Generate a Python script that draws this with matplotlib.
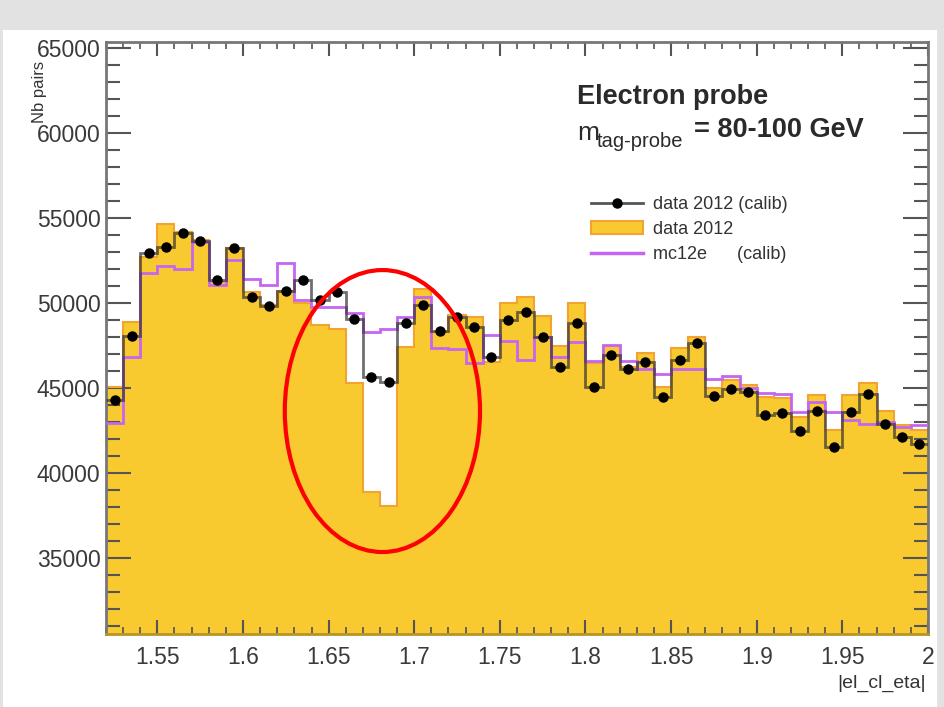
import numpy as np
import matplotlib
matplotlib.use("Agg")
import matplotlib.pyplot as plt
from matplotlib.patches import Ellipse, Rectangle, Patch
from matplotlib.lines import Line2D
from matplotlib.ticker import MultipleLocator, FuncFormatter

plt.rcParams['font.family'] = ['Liberation Sans', 'DejaVu Sans']

# |el_cl_eta| bins, width 0.01 from 1.52 to 2.0
edges = np.round(np.linspace(1.52, 2.0, 49), 3)
centers = 0.5 * (edges[:-1] + edges[1:])

# data 2012 (uncalibrated, yellow fill)
data_raw = [45060, 48900, 52720, 54650, 54190, 53700, 51250, 53210, 50660, 49880,
            50710, 49980, 48700, 48500, 45280, 38900, 38060, 47430, 50820, 48310,
            49300, 49200, 46550, 49980, 50370, 49250, 47470, 49980, 46450, 47500,
            46250, 47040, 45080, 47340, 48020, 44980, 45470, 45180, 44450, 44400,
            43320, 44590, 42530, 44590, 45310, 43650, 42830, 42530]

# data 2012 (calib), black points
data_calib = [44300, 48060, 52940, 53290, 54120, 53660, 51350, 53230, 50350, 49840,
              50710, 51350, 50180, 50660, 49060, 45670, 45370, 48810, 49880, 48350,
              49190, 48570, 46840, 49000, 49490, 48020, 46250, 48810, 45080, 46940,
              46120, 46550, 44490, 46650, 47670, 44530, 44930, 44780, 43410, 43510,
              42470, 43670, 41510, 43570, 44630, 42890, 42100, 41710]

# mc12e (calib), purple line
mc_calib = [42940, 46840, 51750, 52180, 51980, 53600, 51060, 52530, 51390, 51060,
            52370, 50180, 49780, 49750, 49390, 48310, 48470, 49190, 50370, 47340,
            47280, 46450, 48120, 47780, 46650, 48020, 46800, 47720, 46610, 47530,
            46610, 46100, 45820, 46120, 46120, 45510, 45710, 45000, 44730, 44650,
            43610, 44200, 43610, 43120, 42890, 43020, 42690, 42830]

yellow = '#f9c930'
orange = '#f2a433'
purple = '#c466f2'

fig = plt.figure(figsize=(9.45, 7.07), dpi=100, facecolor='#e2e2e2')
fig.patches.append(Rectangle((3 / 945, 0), 934 / 945, 677 / 707, transform=fig.transFigure,
                             facecolor='white', edgecolor='none', zorder=-5))

ax = fig.add_axes([106 / 945, 73 / 707, 822 / 945, 592 / 707])
ax.set_xlim(1.52, 2.0)
ax.set_ylim(30540, 65350)

ax.stairs(data_raw, edges, baseline=0, fill=True, color=yellow, zorder=1)
ax.stairs(data_raw, edges, baseline=None, color=orange, lw=1.5, zorder=2)
ax.stairs(mc_calib, edges, baseline=None, color=purple, lw=2, zorder=3)
ax.stairs(data_calib, edges, baseline=None, color='#333333', alpha=0.7, lw=2, zorder=4)
ax.plot(centers, data_calib, 'o', color='black', ms=6.5, zorder=5)

ax.add_patch(Ellipse((1.6814, 43650), 0.114, 16580, fill=False, edgecolor='#ff0000',
                     lw=3, zorder=6))

# axes styling (ROOT look)
ax.xaxis.set_major_locator(MultipleLocator(0.05))
ax.xaxis.set_minor_locator(MultipleLocator(0.01))
ax.yaxis.set_major_locator(MultipleLocator(5000))
ax.yaxis.set_minor_locator(MultipleLocator(1000))
ax.xaxis.set_major_formatter(FuncFormatter(lambda v, p: '%g' % round(v, 2)))
ax.yaxis.set_major_formatter(FuncFormatter(lambda v, p: '%d' % v))
ax.tick_params(axis='both', which='both', direction='in', top=True, right=True,
               color='#555555', labelcolor='#3a3a3a', labelsize=16.5)
ax.tick_params(axis='x', which='major', length=10, width=1.5, pad=9)
ax.tick_params(axis='x', which='minor', length=5, width=1.2)
ax.tick_params(axis='y', which='major', length=18, width=1.5, pad=4)
ax.tick_params(axis='y', which='minor', length=10, width=1.5)
for s in ['left', 'top', 'right']:
    ax.spines[s].set_color('#777777')
    ax.spines[s].set_linewidth(2)
ax.spines['bottom'].set_color('#b89325')
ax.spines['bottom'].set_linewidth(2)

fig.text(926 / 945, 1 - 683 / 707, '|el_cl_eta|', ha='right', va='center',
         fontsize=14, color='#333333')
fig.text(40 / 945, 1 - 61 / 707, 'Nb pairs', rotation=90, ha='center', va='top',
         fontsize=12, color='#333333', zorder=-1)

# annotation
fig.text(577 / 945, 1 - 104 / 707, 'Electron probe', fontsize=19.5, fontweight='bold',
         color='#2a2a2a', va='baseline')
fig.text(577 / 945, 1 - 140 / 707, 'm', fontsize=19, color='#2a2a2a', va='baseline')
fig.text(597 / 945, 1 - 147 / 707, 'tag-probe', fontsize=14.5, color='#2a2a2a', va='baseline')
fig.text(694 / 945, 1 - 137 / 707, '= 80-100 GeV', fontsize=19.5, fontweight='bold',
         color='#2a2a2a', va='baseline')

handles = [Line2D([], [], color='#555555', lw=2, marker='o', mfc='black', mec='black', ms=6.5),
           Patch(facecolor=yellow, edgecolor=orange, lw=1.5),
           Line2D([], [], color=purple, lw=2.5)]
labels = ['data 2012 (calib)', 'data 2012', 'mc12e      (calib)']
leg = ax.legend(handles, labels, loc='upper left', bbox_to_anchor=(0.59, 0.74),
                frameon=False, fontsize=13, handlelength=2.9, handletextpad=0.55,
                labelspacing=0.45, borderaxespad=0, borderpad=0)
for t in leg.get_texts():
    t.set_color('#333333')

fig.savefig('out.png', dpi=100, facecolor=fig.get_facecolor())
